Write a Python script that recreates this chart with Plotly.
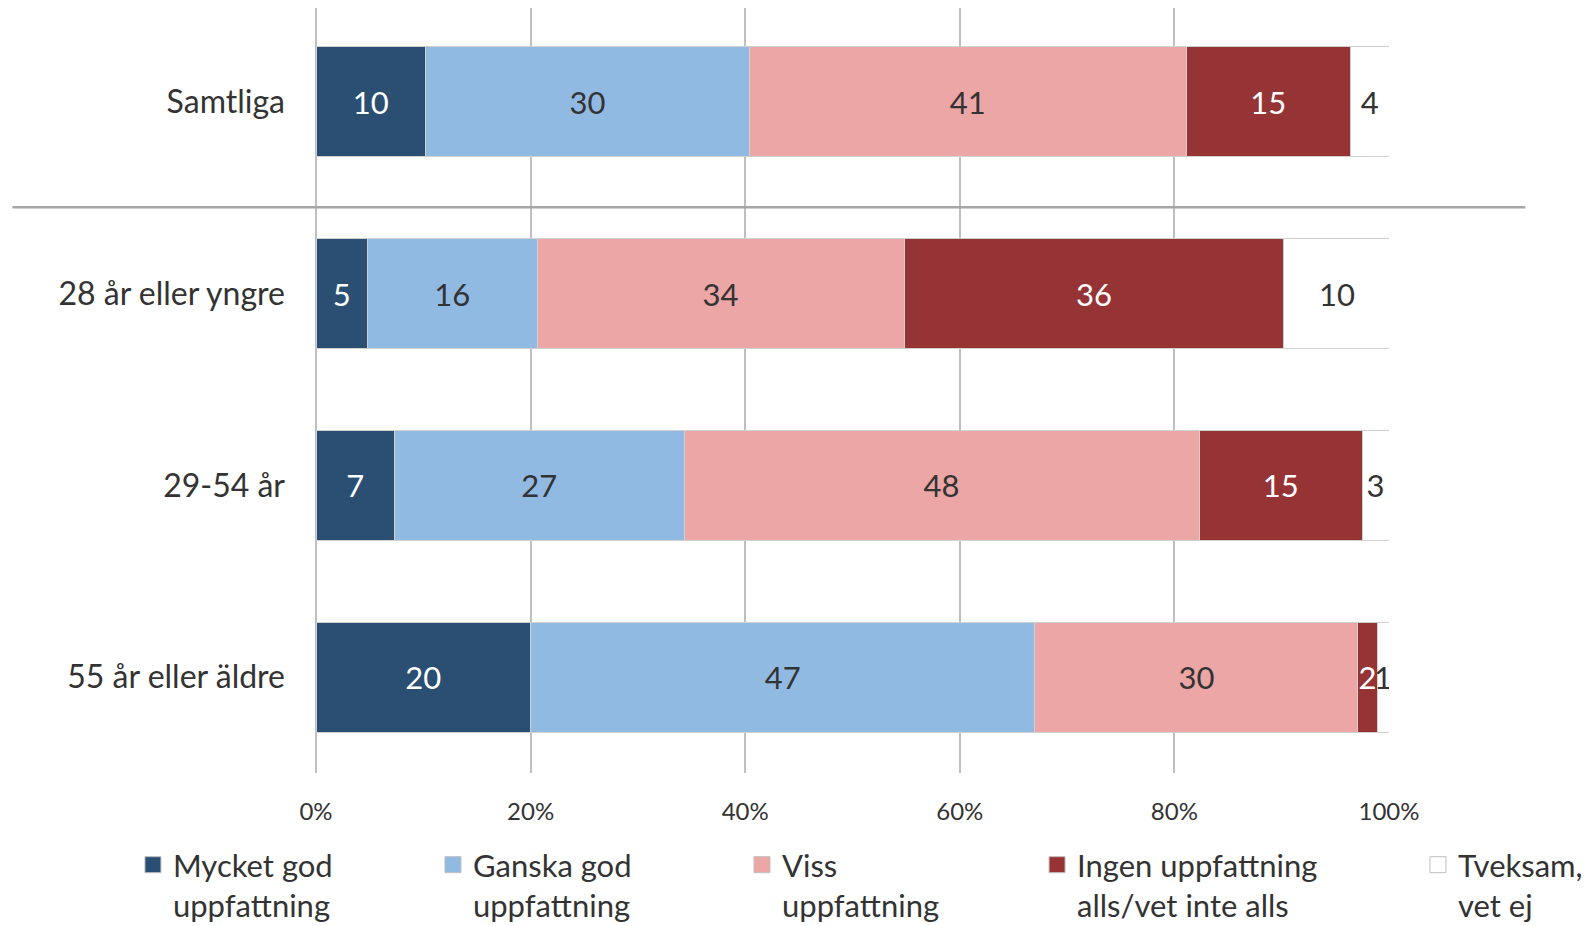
import plotly.graph_objects as go

categories = ["Samtliga", "28 år eller yngre", "29-54 år", "55 år eller äldre"]

series_names = [
    "Mycket god<br>uppfattning",
    "Ganska god<br>uppfattning",
    "Viss<br>uppfattning",
    "Ingen uppfattning<br>alls/vet inte alls",
    "Tveksam,<br>vet ej",
]

# estimated shares (percent)
mycket_god = [10.2, 4.8, 7.3, 20.0]
ganska_god = [30.2, 15.8, 27.0, 47.0]
viss = [40.7, 34.2, 48.0, 30.1]
ingen = [15.3, 35.4, 15.2, 1.8]
tveksam = [3.6, 9.9, 2.5, 1.1]

# labels as printed in the chart
mycket_god_lbl = ["10", "5", "7", "20"]
ganska_god_lbl = ["30", "16", "27", "47"]
viss_lbl = ["41", "34", "48", "30"]
ingen_lbl = ["15", "36", "15", "2"]
tveksam_lbl = ["4", "10", "3", "1"]

tick_vals = [0, 20, 40, 60, 80, 100]
tick_text = ["0%", "20%", "40%", "60%", "80%", "100%"]

colors = ["#2A4F73", "#91BAE2", "#EBA6A5", "#963334", "#FFFFFF"]
text_colors = ["#FFFFFF", "#333333", "#333333", "#FFFFFF", "#333333"]
values = [mycket_god, ganska_god, viss, ingen, tveksam]
labels = [mycket_god_lbl, ganska_god_lbl, viss_lbl, ingen_lbl, tveksam_lbl]

FONT = "Lato, 'Open Sans', sans-serif"

fig = go.Figure()
legend_ids = ["legend", "legend2", "legend3", "legend4", "legend5"]
for i in range(5):
    fig.add_trace(go.Bar(
        y=categories, x=values[i], name=series_names[i], orientation="h",
        marker=dict(color=colors[i], line=dict(color="#D0D0D0", width=1)),
        text=labels[i], textposition="inside", insidetextanchor="middle",
        textangle=0, insidetextfont=dict(color=text_colors[i], size=31, family=FONT),
        hoverinfo="skip", showlegend=False,
    ))
    # legend entry (larger square key, no mark drawn)
    fig.add_trace(go.Scatter(
        x=[None], y=[None], mode="markers", name=series_names[i],
        marker=dict(symbol="square", size=16, color=colors[i],
                    line=dict(color="#BFBFBF", width=1)),
        legend=legend_ids[i], hoverinfo="skip",
    ))

# figure is placed 8px from the page corner by the html body margin
legend_x = [-0.1706, 0.109, 0.397, 0.672, 1.027]
legend_common = dict(orientation="v", yanchor="top", y=-0.085, xanchor="left",
                     bgcolor="rgba(0,0,0,0)", valign="top", itemsizing="trace",
                     font=dict(family=FONT, size=31, color="#333333"))
layout_legends = {}
for i, lid in enumerate(legend_ids):
    layout_legends[lid] = dict(x=legend_x[i], **legend_common)

fig.update_layout(
    barmode="stack",
    bargap=0.426,
    width=1586, height=918,
    margin=dict(l=308, r=205, t=0, b=153, autoexpand=False),
    paper_bgcolor="white", plot_bgcolor="white",
    font=dict(family=FONT, color="#333333"),
    uniformtext=dict(minsize=31, mode="show"),
    showlegend=True,
    **layout_legends,
)

fig.update_xaxes(
    range=[0, 100], tickvals=tick_vals, ticktext=tick_text,
    showgrid=True, gridcolor="#BFBFBF", gridwidth=1.5,
    zeroline=True, zerolinecolor="#BFBFBF", zerolinewidth=1.5,
    showline=False, ticks="", ticklabelstandoff=22,
    tickfont=dict(family=FONT, size=24, color="#333333"),
)
fig.update_yaxes(
    categoryorder="array", categoryarray=categories, range=[3.5, -0.489],
    showgrid=False, zeroline=False, showline=False, ticks="",
    ticklabelstandoff=30,
    tickfont=dict(family=FONT, size=32, color="#333333"),
)

fig.add_shape(type="line", xref="paper", yref="y", x0=-0.283, x1=1.127,
              y0=0.55, y1=0.55, line=dict(color="#A6A6A6", width=2.5), layer="above")

fig.write_html("out.html")
